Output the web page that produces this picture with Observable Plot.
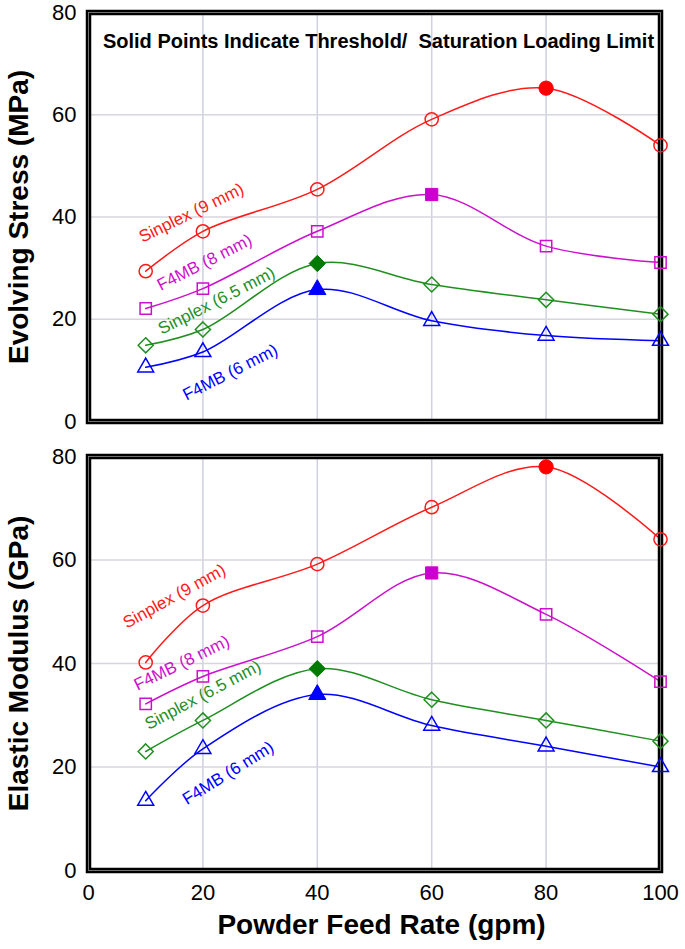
<!DOCTYPE html>
<html>
<head>
<meta charset="utf-8">
<script src="https://cdn.jsdelivr.net/npm/d3@7"></script>
<script src="https://cdn.jsdelivr.net/npm/@observablehq/plot@0.6"></script>
<style>
  html, body { margin: 0; padding: 0; background: #fff; }
  #chart svg { display: block; }
</style>
</head>
<body>
<div id="chart"></div>
<script>
// ---------- data ----------
const feedRate = [10, 20, 40, 60, 80, 100];
const seriesNames = ["Sinplex (9 mm)", "F4MB (8 mm)", "Sinplex (6.5 mm)", "F4MB (6 mm)"];
// feed rate at which each series reaches its threshold / saturation (solid point)
const thresholdRate = [80, 60, 40, 40];

// Evolving stress (MPa)
const stressSinplex9 = [29.4, 37.2, 45.4, 59.1, 65.2, 54.0];
const stressF4MB8    = [22.1, 26.0, 37.2, 44.4, 34.3, 31.1];
const stressSinplex65 = [14.9, 18.0, 30.9, 26.8, 23.8, 21.0];
const stressF4MB6    = [10.6, 13.6, 25.8, 19.7, 16.8, 15.8];

// Elastic modulus (GPa)
const modulusSinplex9 = [40.2, 51.2, 59.2, 70.2, 78.0, 64.0];
const modulusF4MB8    = [32.2, 37.5, 45.2, 57.5, 49.5, 36.5];
const modulusSinplex65 = [23.0, 29.0, 39.0, 33.0, 29.0, 25.0];
const modulusF4MB6    = [13.5, 23.5, 34.0, 28.0, 24.0, 20.0];

const yTicks = [0, 20, 40, 60, 80];
const xTicks = [0, 20, 40, 60, 80, 100];
const noteText = "Solid Points Indicate Threshold/  Saturation Loading Limit";
const xTitle = "Powder Feed Rate (gpm)";
const stressTitle = "Evolving Stress (MPa)";
const modulusTitle = "Elastic Modulus (GPa)";

// in-plot series labels (anchor in data units)
const stressLabelX = [18.0, 20.3, 22.4, 24.8];
const stressLabelY = [40.8, 31.1, 23.6, 9.6];
const modulusLabelX = [15.0, 16.3, 20.0, 24.4];
const modulusLabelY = [53.0, 40.1, 33.9, 18.8];

// ---------- styles ----------
const seriesColors = ["#ff1a1a", "#cc11cc", "#1f8f1f", "#0000ff"];
const solidColors = ["#ff0000", "#cc00cc", "#007a00", "#0000ff"];
const seriesSymbols = ["circle", "square2", "diamond2", "triangle2"];
const symbolR = [6.6, 7.2, 6.8, 7.6];
const stressLabelAngle = [-26, -27, -27, -27];
const modulusLabelAngle = [-29, -26, -28, -32];

function rowsFor(seriesValues) {
  const rows = [];
  seriesValues.forEach((vals, si) => {
    vals.forEach((v, i) => {
      rows.push({series: seriesNames[si], si, x: feedRate[i], y: v, solid: feedRate[i] === thresholdRate[si]});
    });
  });
  return rows;
}
function labelsFor(xs, ys, angles) {
  return seriesNames.map((s, i) => ({series: s, si: i, x: xs[i], y: ys[i], angle: angles[i]}));
}

function panel({rows, labels, yTitle, height, marginTop, marginBottom, showX, note}) {
  const marks = [
    Plot.gridX({ticks: [20, 40, 60, 80], stroke: "#cfd0e0", strokeOpacity: 1, strokeWidth: 1.5}),
    Plot.gridY({ticks: [20, 40, 60], stroke: "#d6d6de", strokeOpacity: 1, strokeWidth: 1.5}),
    Plot.axisY({ticks: yTicks, tickSize: 0, tickPadding: 12, fontSize: 22, label: null}),
    Plot.text([yTitle], {text: d => d, frameAnchor: "left", textAnchor: "middle", dx: -69, rotate: -90, fontSize: 28, fontWeight: "bold", fill: "black"}),
    Plot.line(rows, {x: "x", y: "y", z: "series", stroke: "series", curve: "catmull-rom", strokeWidth: 1.5}),
    Plot.frame({stroke: "black", strokeWidth: 5.5}),
    Plot.frame({stroke: "#8a8a8a", strokeWidth: 0.8}),
    Plot.dot(rows.filter(d => !d.solid), {x: "x", y: "y", stroke: "series", symbol: "series", r: d => symbolR[d.si], fill: "none", strokeWidth: 1.5}),
    Plot.dot(rows.filter(d => d.solid), {x: "x", y: "y", fill: d => solidColors[d.si], stroke: d => solidColors[d.si], symbol: "series", r: d => symbolR[d.si] * 1.08, strokeWidth: 1}),
    Plot.text(labels, {x: "x", y: "y", text: "series", fill: "series", rotate: "angle", fontSize: 17})
  ];
  if (showX) {
    marks.push(Plot.axisX({ticks: xTicks, tickSize: 0, tickPadding: 14, fontSize: 22, label: null}));
    marks.push(Plot.text([xTitle], {text: d => d, frameAnchor: "bottom", dy: 63, dx: 7, fontSize: 28, fontWeight: "bold", fill: "black"}));
  }
  if (note) {
    marks.push(Plot.text([note], {text: d => d, frameAnchor: "top", dy: 21, dx: 4, fontSize: 20, fontWeight: "bold", fill: "black",
      fontFamily: "'Liberation Sans Narrow', 'Arial Narrow', 'Liberation Sans', sans-serif"}));
  }
  return Plot.plot({
    width: 685,
    height,
    marginLeft: 88,
    marginRight: 25,
    marginTop,
    marginBottom,
    style: {fontFamily: "'Liberation Sans', Arial, sans-serif", background: "white", overflow: "visible"},
    x: {domain: [0, 100], axis: null},
    y: {domain: [0, 80], axis: null},
    r: {type: "identity"},
    color: {domain: seriesNames, range: seriesColors},
    symbol: {domain: seriesNames, range: seriesSymbols},
    marks
  });
}

const stressPanel = panel({
  rows: rowsFor([stressSinplex9, stressF4MB8, stressSinplex65, stressF4MB6]),
  labels: labelsFor(stressLabelX, stressLabelY, stressLabelAngle),
  yTitle: stressTitle, height: 440, marginTop: 12, marginBottom: 19, showX: false, note: noteText
});
const modulusPanel = panel({
  rows: rowsFor([modulusSinplex9, modulusF4MB8, modulusSinplex65, modulusF4MB6]),
  labels: labelsFor(modulusLabelX, modulusLabelY, modulusLabelAngle),
  yTitle: modulusTitle, height: 509, marginTop: 16, marginBottom: 79, showX: true
});
document.getElementById("chart").append(stressPanel, modulusPanel);
</script>
</body>
</html>
